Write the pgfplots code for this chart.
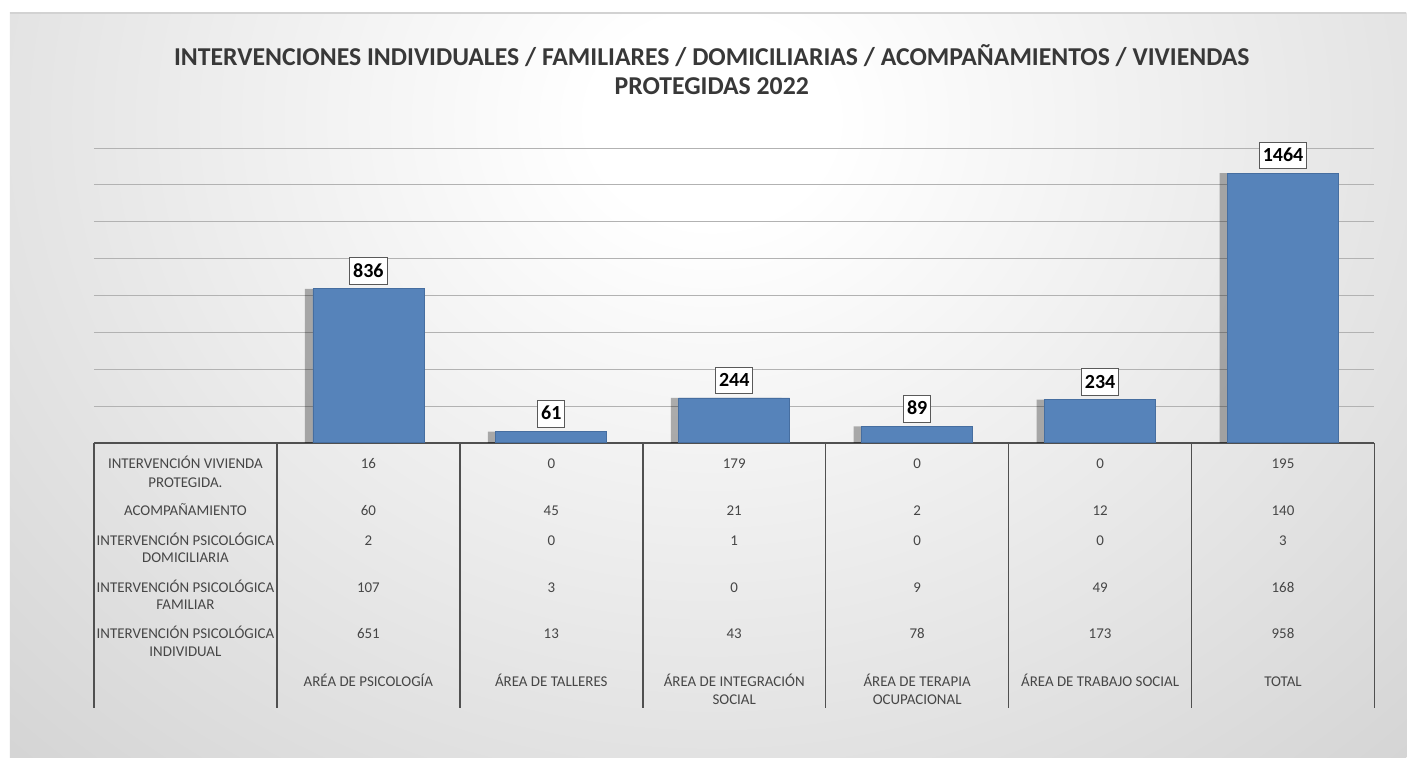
\documentclass[border=0pt]{standalone}
\usepackage{pgfplots}
\pgfplotsset{compat=1.18}
\usepackage{fontspec}
\setmainfont{Carlito}
\definecolor{barblue}{RGB}{86,131,186}
\definecolor{baredge}{RGB}{70,110,160}
\definecolor{txt}{RGB}{56,56,56}
\definecolor{tbl}{RGB}{70,70,70}
\definecolor{tline}{RGB}{80,80,80}
\definecolor{bgout}{RGB}{190,190,190}
\pgfdeclareradialshading{bgshade}{\pgfpoint{0bp}{0bp}}{color(0bp)=(white); color(4bp)=(white); color(50bp)=(bgout)}
\newcommand\tfont{\fontsize{11.2}{13}\selectfont}
\newcommand\cell[3]{\node[anchor=base,font=\tfont,text=tbl,inner sep=0pt] at ({#1},{758-#2}) {#3};}
\begin{document}
\begin{tikzpicture}[x=0.75pt,y=0.75pt]
% background
\fill[white] (0,0) rectangle (1407,758);
\begin{scope}
\clip (10,0) rectangle (1407,745);
\shade[shading=bgshade] (-38,-12) rectangle (1462,1288);
\end{scope}
\draw[gray!35,line width=0.8pt] (10,745) -- (1407,745);
% title
\node[anchor=base,font=\fontsize{19.3}{23}\selectfont\bfseries,text=txt,inner sep=0pt] at (712,{758-66}) {INTERVENCIONES INDIVIDUALES / FAMILIARES / DOMICILIARIAS / ACOMPAÑAMIENTOS / VIVIENDAS};
\node[anchor=base,font=\fontsize{19.3}{23}\selectfont\bfseries,text=txt,inner sep=0pt] at (712,{758-95}) {PROTEGIDAS 2022};
\begin{axis}[
  at={(70.5pt,236.25pt)}, anchor=south west,
  width=960.75pt, height=221.25pt, scale only axis,
  xmin=-0.5, xmax=6.5, ymin=0, ymax=1600,
  ytick={200,400,...,1600}, yticklabels={},
  xtick=\empty,
  ymajorgrids, grid style={draw=gray!60, line width=0.6pt},
  axis x line*=bottom, axis y line*=left,
  x axis line style={draw=tline, line width=1.2pt},
  y axis line style={draw=none},
  ytick style={draw=none},
  ybar, bar width=83.25pt,
  clip=false,
  /pgf/number format/.cd, 1000 sep={}, assume math mode=true,
]
\addplot[fill=black, fill opacity=0.3, draw=none, bar shift=-6pt]
  coordinates {(1,836) (2,61) (3,244) (4,89) (5,234) (6,1464)};
\addplot[fill=barblue, draw=baredge, line width=0.5pt, bar shift=0pt,
  nodes near coords,
  every node near coord/.append style={anchor=south, yshift=3pt,
    font=\fontsize{15}{17}\selectfont\bfseries, text=black, fill=white,
    draw=gray!70!black, line width=0.5pt, inner xsep=2.5pt, inner ysep=4pt,
    text height=10.5pt, text depth=1.5pt}]
  coordinates {(1,836) (2,61) (3,244) (4,89) (5,234) (6,1464)};
\end{axis}
% table lines
\foreach \k in {0,...,7} {\draw[tline, line width=1.2pt] ({94+183*\k},{758-443}) -- ({94+183*\k},{758-708});}
% row labels
\cell{185.5}{469}{INTERVENCIÓN VIVIENDA}
\cell{185.5}{488}{PROTEGIDA.}
\cell{185.5}{516}{ACOMPAÑAMIENTO}
\cell{185.5}{546}{INTERVENCIÓN PSICOLÓGICA}
\cell{185.5}{563}{DOMICILIARIA}
\cell{185.5}{593}{INTERVENCIÓN PSICOLÓGICA}
\cell{185.5}{610}{FAMILIAR}
\cell{185.5}{639}{INTERVENCIÓN PSICOLÓGICA}
\cell{185.5}{657}{INDIVIDUAL}
% values
\foreach \v [count=\i from 0] in {16,0,179,0,0,195} {\cell{368.5+183*\i}{469}{\v}}
\foreach \v [count=\i from 0] in {60,45,21,2,12,140} {\cell{368.5+183*\i}{516}{\v}}
\foreach \v [count=\i from 0] in {2,0,1,0,0,3} {\cell{368.5+183*\i}{546}{\v}}
\foreach \v [count=\i from 0] in {107,3,0,9,49,168} {\cell{368.5+183*\i}{593}{\v}}
\foreach \v [count=\i from 0] in {651,13,43,78,173,958} {\cell{368.5+183*\i}{639}{\v}}
% categories
\cell{368.5}{687}{ARÉA DE PSICOLOGÍA}
\cell{551.5}{687}{ÁREA DE TALLERES}
\cell{734.5}{687}{ÁREA DE INTEGRACIÓN}
\cell{734.5}{705}{SOCIAL}
\cell{917.5}{687}{ÁREA DE TERAPIA}
\cell{917.5}{705}{OCUPACIONAL}
\cell{1100.5}{687}{ÁREA DE TRABAJO SOCIAL}
\cell{1283.5}{687}{TOTAL}
\end{tikzpicture}
\end{document}
